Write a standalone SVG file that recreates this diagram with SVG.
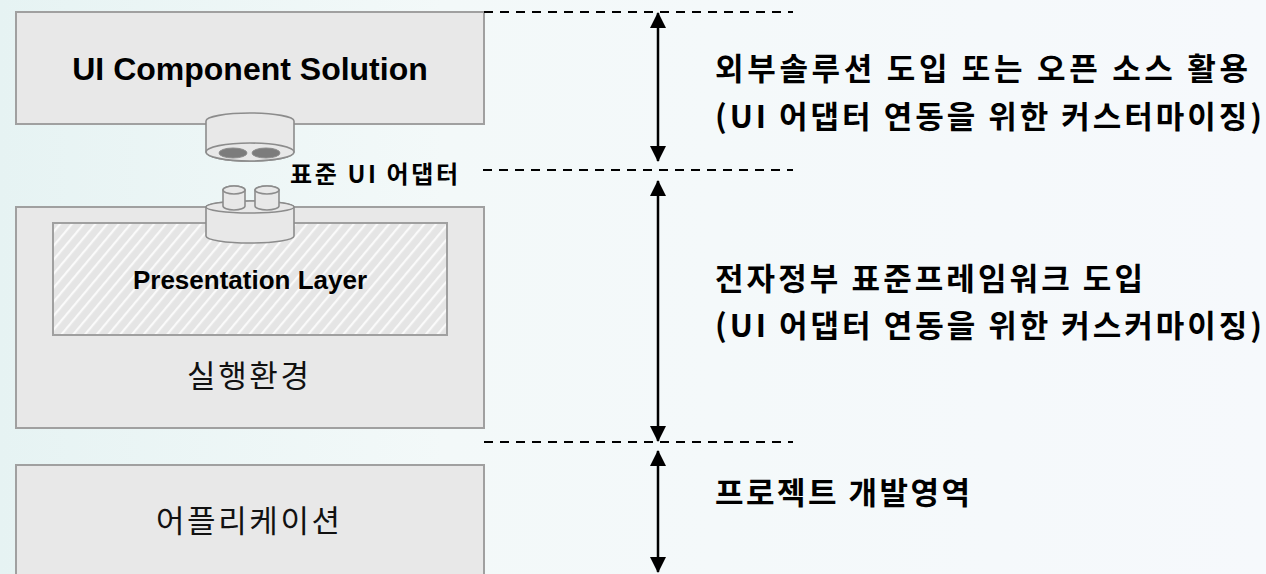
<svg xmlns="http://www.w3.org/2000/svg" width="1266" height="574" viewBox="0 0 1266 574">
  <defs>
    <linearGradient id="bg" x1="0" y1="0" x2="1" y2="0">
      <stop offset="0" stop-color="#e6f3f3"/>
      <stop offset="0.35" stop-color="#f3f9f9"/>
      <stop offset="1" stop-color="#f6f9fc"/>
    </linearGradient>
    <pattern id="hatch" width="9" height="9" patternUnits="userSpaceOnUse" patternTransform="rotate(40)">
      <rect width="9" height="9" fill="#e5e5e5"/>
      <rect x="0" y="0" width="2.2" height="9" fill="#fafafa"/>
    </pattern>
    <marker id="head" viewBox="0 0 16 16" refX="15" refY="8" markerWidth="16" markerHeight="16" markerUnits="userSpaceOnUse" orient="auto-start-reverse">
      <path d="M0,0 L16,8 L0,16 Z" fill="#000"/>
    </marker>
    <style>
      .box { fill: #e8e8e8; stroke: #a0a0a0; stroke-width: 2; }
      .cyl { fill: #e8e8e8; stroke: #8c8c8c; stroke-width: 1.6; }
      .hole { fill: #7c7c7c; stroke: #8c8c8c; stroke-width: 1; }
      .dash { stroke: #000; stroke-width: 2; stroke-dasharray: 9 7; fill: none; }
      .span { stroke: #000; stroke-width: 2.5; fill: none; marker-start: url(#head); marker-end: url(#head); }
      .en { font-family: "Liberation Sans", Arial, sans-serif; font-weight: bold; fill: #000; }
      .ko { font-family: "Noto Sans CJK KR", "Liberation Sans", sans-serif; fill: #111; }
      .kob { font-family: "Noto Sans CJK KR", "Liberation Sans", sans-serif; font-weight: bold; fill: #000; }
      .note { font-size: 31px; }
    </style>
  </defs>

  <rect width="1266" height="574" fill="url(#bg)"/>

  <!-- UI component solution box -->
  <g id="ui-component-solution">
    <rect class="box" x="16" y="12" width="468" height="112"/>
    <text class="en" x="250" y="80" font-size="32" text-anchor="middle">UI Component Solution</text>
  </g>

  <!-- adapter socket hanging under the solution box -->
  <g id="adapter-socket">
    <path class="cyl" d="M206,121 A44,8 0 0 1 294,121 L294,152 A44,9 0 0 1 206,152 Z"/>
    <ellipse class="cyl" cx="250" cy="152" rx="44" ry="9"/>
    <ellipse class="hole" cx="233" cy="153" rx="14" ry="5"/>
    <ellipse class="hole" cx="266" cy="153" rx="14" ry="5"/>
  </g>

  <g id="adapter-label">
    <text class="kob" x="290" y="183" font-size="24" textLength="168" lengthAdjust="spacing">표준 UI 어댑터</text>
  </g>

  <!-- runtime environment box with presentation layer -->
  <g id="runtime-environment">
    <rect class="box" x="16" y="207" width="468" height="221"/>
    <text class="ko" x="248" y="387" font-size="31" text-anchor="middle" textLength="122" lengthAdjust="spacing">실행환경</text>
  </g>

  <g id="presentation-layer">
    <rect x="53" y="223" width="394" height="112" fill="url(#hatch)" stroke="#a0a0a0" stroke-width="2"/>
    <text class="en" x="250" y="289" font-size="26" text-anchor="middle">Presentation Layer</text>
  </g>

  <!-- adapter plug on top of the runtime box -->
  <g id="adapter-plug">
    <path class="cyl" d="M206,207 A44,6 0 0 1 294,207 L294,236 A44,7 0 0 1 206,236 Z"/>
    <ellipse class="cyl" cx="250" cy="207" rx="44" ry="6"/>
    <path class="cyl" d="M223,190 A11,4 0 0 1 245,190 L245,206 A11,4 0 0 1 223,206 Z"/>
    <ellipse class="cyl" cx="234" cy="190" rx="11" ry="4"/>
    <path class="cyl" d="M255,190 A12,4 0 0 1 279,190 L279,206 A12,4 0 0 1 255,206 Z"/>
    <ellipse class="cyl" cx="267" cy="190" rx="12" ry="4"/>
  </g>

  <!-- application box -->
  <g id="application">
    <rect class="box" x="16" y="465" width="468" height="120"/>
    <text class="ko" x="248" y="532" font-size="31" text-anchor="middle" textLength="184" lengthAdjust="spacing">어플리케이션</text>
  </g>

  <!-- boundary lines and span arrows -->
  <g id="connectors">
    <line class="dash" x1="484" y1="12" x2="793" y2="12"/>
    <line class="dash" x1="483" y1="170" x2="793" y2="170"/>
    <line class="dash" x1="484" y1="442" x2="793" y2="442"/>
    <line class="span" x1="658" y1="13" x2="658" y2="161"/>
    <line class="span" x1="658" y1="181" x2="658" y2="441"/>
    <line class="span" x1="658" y1="451" x2="658" y2="572"/>
  </g>

  <!-- scope descriptions -->
  <g id="scope-external">
    <text class="kob note" x="715" y="80" textLength="533" lengthAdjust="spacing">외부솔루션 도입 또는 오픈 소스 활용</text>
    <text class="kob note" x="715" y="128" textLength="547" lengthAdjust="spacing">(UI 어댑터 연동을 위한 커스터마이징)</text>
  </g>

  <g id="scope-framework">
    <text class="kob note" x="715" y="290" textLength="428" lengthAdjust="spacing">전자정부 표준프레임워크 도입</text>
    <text class="kob note" x="715" y="337" textLength="547" lengthAdjust="spacing">(UI 어댑터 연동을 위한 커스커마이징)</text>
  </g>

  <g id="scope-project">
    <text class="kob note" x="715" y="504" textLength="255" lengthAdjust="spacing">프로젝트 개발영역</text>
  </g>
</svg>
